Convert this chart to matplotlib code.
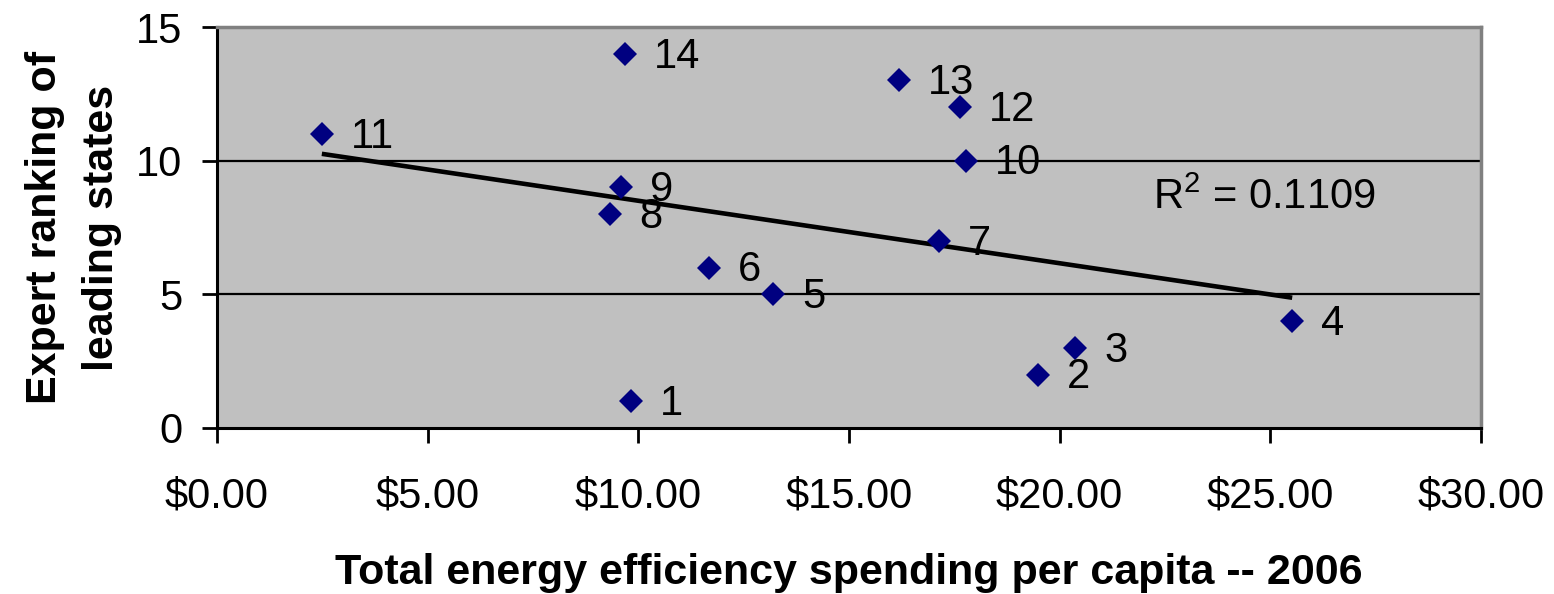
import matplotlib.pyplot as plt
import numpy as np
from matplotlib.ticker import FuncFormatter

plt.rcParams['font.family'] = ['Liberation Sans', 'DejaVu Sans']
plt.rcParams['mathtext.fontset'] = 'custom'
plt.rcParams['mathtext.rm'] = 'Liberation Sans'
plt.rcParams['mathtext.default'] = 'rm'

# spending per capita ($) and expert rank for each state
spending = [9.83, 19.49, 20.37, 25.52, 13.20, 11.68, 17.14, 9.33, 9.59, 17.78, 2.49, 17.64, 16.19, 9.68]
rank = [1, 2, 3, 4, 5, 6, 7, 8, 9, 10, 11, 12, 13, 14]
point_labels = ['1', '2', '3', '4', '5', '6', '7', '8', '9', '10', '11', '12', '13', '14']
r2_text = 'R$^2$ = 0.1109'

fig = plt.figure(figsize=(15.54, 5.94), dpi=100)
ax = fig.add_axes([0.1396, 0.2795, 0.8134, 0.675])
ax.set_facecolor('#C0C0C0')

ax.set_xlim(0, 30)
ax.set_ylim(0, 15)
ax.set_xticks([0, 5, 10, 15, 20, 25, 30])
ax.set_yticks([0, 5, 10, 15])
ax.xaxis.set_major_formatter(FuncFormatter(lambda v, p: f'${v:.2f}'))

for y in [5, 10]:
    ax.axhline(y, color='black', lw=1.6, zorder=1)

# linear trendline over the data range
x = np.array(spending)
y = np.array(rank, dtype=float)
slope, icpt = np.polyfit(x, y, 1)
xs = np.array([x.min(), x.max()])
ax.plot(xs, slope * xs + icpt, color='black', lw=3.3, zorder=2, solid_capstyle='butt')

ax.plot(spending, rank, linestyle='none', marker='D', markersize=12,
        color='#000080', markeredgewidth=0, zorder=3)

for sx, ry, lab in zip(spending, rank, point_labels):
    ax.annotate(lab, (sx, ry), xytext=(21, -2), textcoords='offset points',
                fontsize=30, va='center', ha='left', zorder=4)

ax.text(24.87, 8.6, r2_text, fontsize=30, ha='center', va='center')

for side in ['top', 'right']:
    ax.spines[side].set_color('#808080')
    ax.spines[side].set_linewidth(2.5)
for side in ['left', 'bottom']:
    ax.spines[side].set_color('black')
    ax.spines[side].set_linewidth(2.2)

ax.tick_params(axis='both', labelsize=30, length=11, width=2, direction='out')
ax.tick_params(axis='x', pad=24)
ax.tick_params(axis='y', pad=14)

ax.set_xlabel('Total energy efficiency spending per capita -- 2006',
              fontsize=31, fontweight='bold', labelpad=26)
ax.set_ylabel('Expert ranking of\nleading states', fontsize=31,
              fontweight='bold', labelpad=10, linespacing=1.55)

fig.savefig('out.png', dpi=100)
